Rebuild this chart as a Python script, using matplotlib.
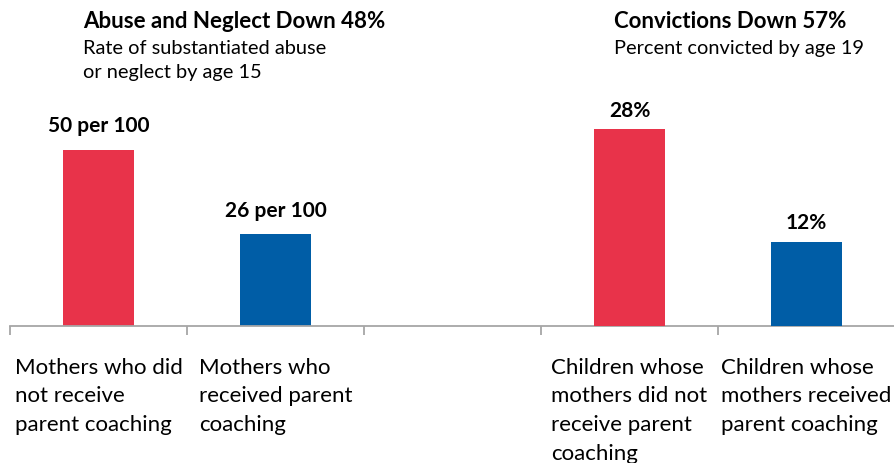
import matplotlib.pyplot as plt
import numpy as np

plt.rcParams['font.family'] = ['Lato', 'DejaVu Sans']

# --- datos ---
categorias = ['Mothers who did\nnot receive\nparent coaching',
              'Mothers who\nreceived parent\ncoaching',
              '',
              'Children whose\nmothers did not\nreceive parent\ncoaching',
              'Children whose\nmothers received\nparent coaching']
abuso = [50, 26]                 # tasa por 100
abuso_etiquetas = ['50 per 100', '26 per 100']
condenas = [28, 12]              # porcentaje
condenas_etiquetas = ['28%', '12%']

rojo = '#E8334A'
azul = '#005DA6'
gris = '#A6A6A6'

W, H = 894, 463
fig = plt.figure(figsize=(W / 100, H / 100), dpi=100)

# ejes: linea base en y=326 px, de x=10 a x=895 px
izq, der = 10 / W, 895 / W
base, tope = 1 - 326 / H, 1 - 100 / H
ax = fig.add_axes([izq, base, der - izq, tope - base])
ax2 = ax.twinx()

x_izq = np.array([0, 1])
x_der = np.array([3, 4])
ancho = 0.4

ax.bar(x_izq, abuso, width=ancho, color=[rojo, azul])
ax2.bar(x_der, condenas, width=ancho, color=[rojo, azul])

ax.set_xlim(-0.5, 4.5)
ax.set_ylim(0, 64.2)
ax2.set_ylim(0, 32.1)

for xi, v, t in zip(x_izq, abuso, abuso_etiquetas):
    ax.annotate(t, (xi, v), xytext=(0, 17), textcoords='offset points',
                ha='center', va='center', fontsize=15, fontweight='bold')
for xi, v, t in zip(x_der, condenas, condenas_etiquetas):
    ax2.annotate(t, (xi, v), xytext=(0, 13), textcoords='offset points',
                 ha='center', va='center', fontsize=15, fontweight='bold')

# estilo de ejes
for a in (ax, ax2):
    for s in ['top', 'right', 'left']:
        a.spines[s].set_visible(False)
    a.set_yticks([])
ax2.spines['bottom'].set_visible(False)
ax.spines['bottom'].set_color(gris)
ax.spines['bottom'].set_linewidth(1.3)

ax.set_xticks(np.arange(-0.5, 4.0, 1.0))
ax.set_xticklabels([])
ax.tick_params(axis='x', length=6.5, width=1.3, color=gris, direction='out')

# etiquetas de categoria
for i, c in enumerate(categorias):
    ax.text(i, -0.14, c, transform=ax.get_xaxis_transform(), ha='center', va='top',
            multialignment='left', fontsize=16, linespacing=1.54)

# titulos
fig.text(83 / W, 1 - 22 / H, 'Abuse and Neglect Down 48%', fontsize=16,
         fontweight='bold', ha='left', va='center')
fig.text(83 / W, 1 - 40 / H, 'Rate of substantiated abuse\nor neglect by age 15',
         fontsize=14.4, ha='left', va='top', linespacing=1.52)
fig.text(614 / W, 1 - 40 / H, 'Percent convicted by age 19',
         fontsize=14.4, ha='left', va='top')
fig.text(614 / W, 1 - 22 / H, 'Convictions Down 57%', fontsize=16,
         fontweight='bold', ha='left', va='center')

fig.savefig('out.png', dpi=100)
